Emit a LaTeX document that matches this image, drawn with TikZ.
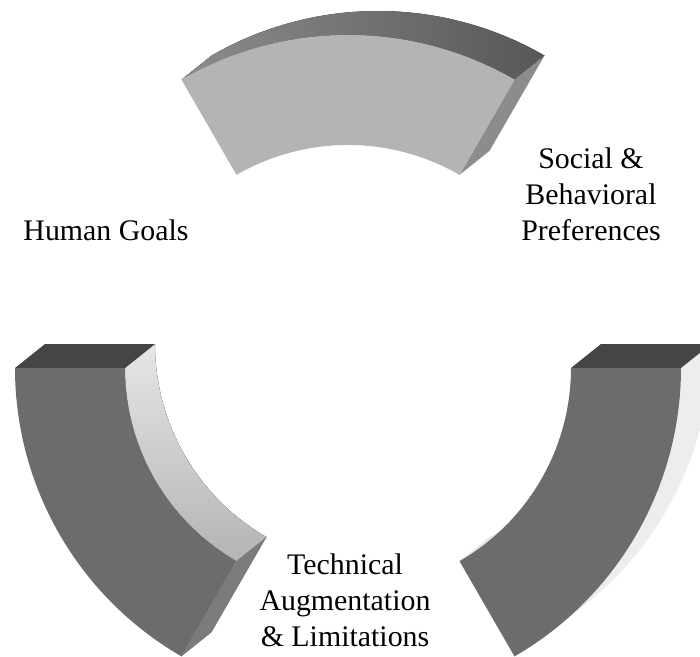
\documentclass[tikz,border=0pt]{standalone}
\usepackage{fontspec}
\setmainfont{Liberation Serif}
\usepackage{xcolor}
\usepackage{tikz}
\definecolor{pale}{HTML}{B4B4B4}
\definecolor{slate}{HTML}{6C6C6C}
\definecolor{coal}{HTML}{454545}
\definecolor{ash}{HTML}{8C8C8C}
\definecolor{mist}{HTML}{E6E6E6}
\definecolor{fog}{HTML}{EDEDED}
\newcommand{\outR}{6.66}
\newcommand{\inR}{4.46}

\begin{document}
\begin{tikzpicture}[font=\fontsize{17}{20.5}\selectfont,
  farside/.style={shift={(0.6,0.48)}},
  label text/.style={align=center,inner sep=0pt}]
\useasboundingbox (-6.96,-5.76) rectangle (7.04,7.36);
% upper segment (60 to 120 degrees)
\fill[left color=ash,right color=coal!90] (60:\outR) arc[start angle=60,end angle=120,radius=\outR] -- ([farside]120:\outR) arc[start angle=120,end angle=60,radius=\outR] -- cycle;
\fill[ash] (60:\outR) -- (60:\inR) -- ([farside]60:\inR) -- ([farside]60:\outR) -- cycle;
\fill[pale] (60:\outR) arc[start angle=60,end angle=120,radius=\outR] -- (120:\inR) arc[start angle=120,end angle=60,radius=\inR] -- cycle;
% left segment (180 to 240 degrees)
\fill[top color=mist,bottom color=pale] (180:\inR) arc[start angle=180,end angle=240,radius=\inR] -- ([farside]240:\inR) arc[start angle=240,end angle=180,radius=\inR] -- cycle;
\fill[coal] (180:\outR) -- (180:\inR) -- ([farside]180:\inR) -- ([farside]180:\outR) -- cycle;
\fill[slate!90] (240:\outR) -- (240:\inR) -- ([farside]240:\inR) -- ([farside]240:\outR) -- cycle;
\fill[slate] (180:\outR) arc[start angle=180,end angle=240,radius=\outR] -- (240:\inR) arc[start angle=240,end angle=180,radius=\inR] -- cycle;
% right segment (300 to 360 degrees)
\fill[fog] (300:\outR) arc[start angle=300,end angle=360,radius=\outR] -- ([farside]360:\outR) arc[start angle=360,end angle=300,radius=\outR] -- cycle;
\fill[mist] (300:\inR) arc[start angle=300,end angle=360,radius=\inR] -- ([farside]360:\inR) arc[start angle=360,end angle=300,radius=\inR] -- cycle;
\fill[coal] (360:\outR) -- (360:\inR) -- ([farside]360:\inR) -- ([farside]360:\outR) -- cycle;
\fill[slate] (300:\outR) arc[start angle=300,end angle=360,radius=\outR] -- (360:\inR) arc[start angle=360,end angle=300,radius=\inR] -- cycle;
% labels
\node[label text] (social) at (4.86,3.48) {Social \&\\Behavioral\\Preferences};
\node[label text] (goals) at (-4.84,2.76) {Human Goals};
\node[label text] (technical) at (-0.06,-4.64) {Technical\\Augmentation\\\& Limitations};
\end{tikzpicture}
\end{document}
